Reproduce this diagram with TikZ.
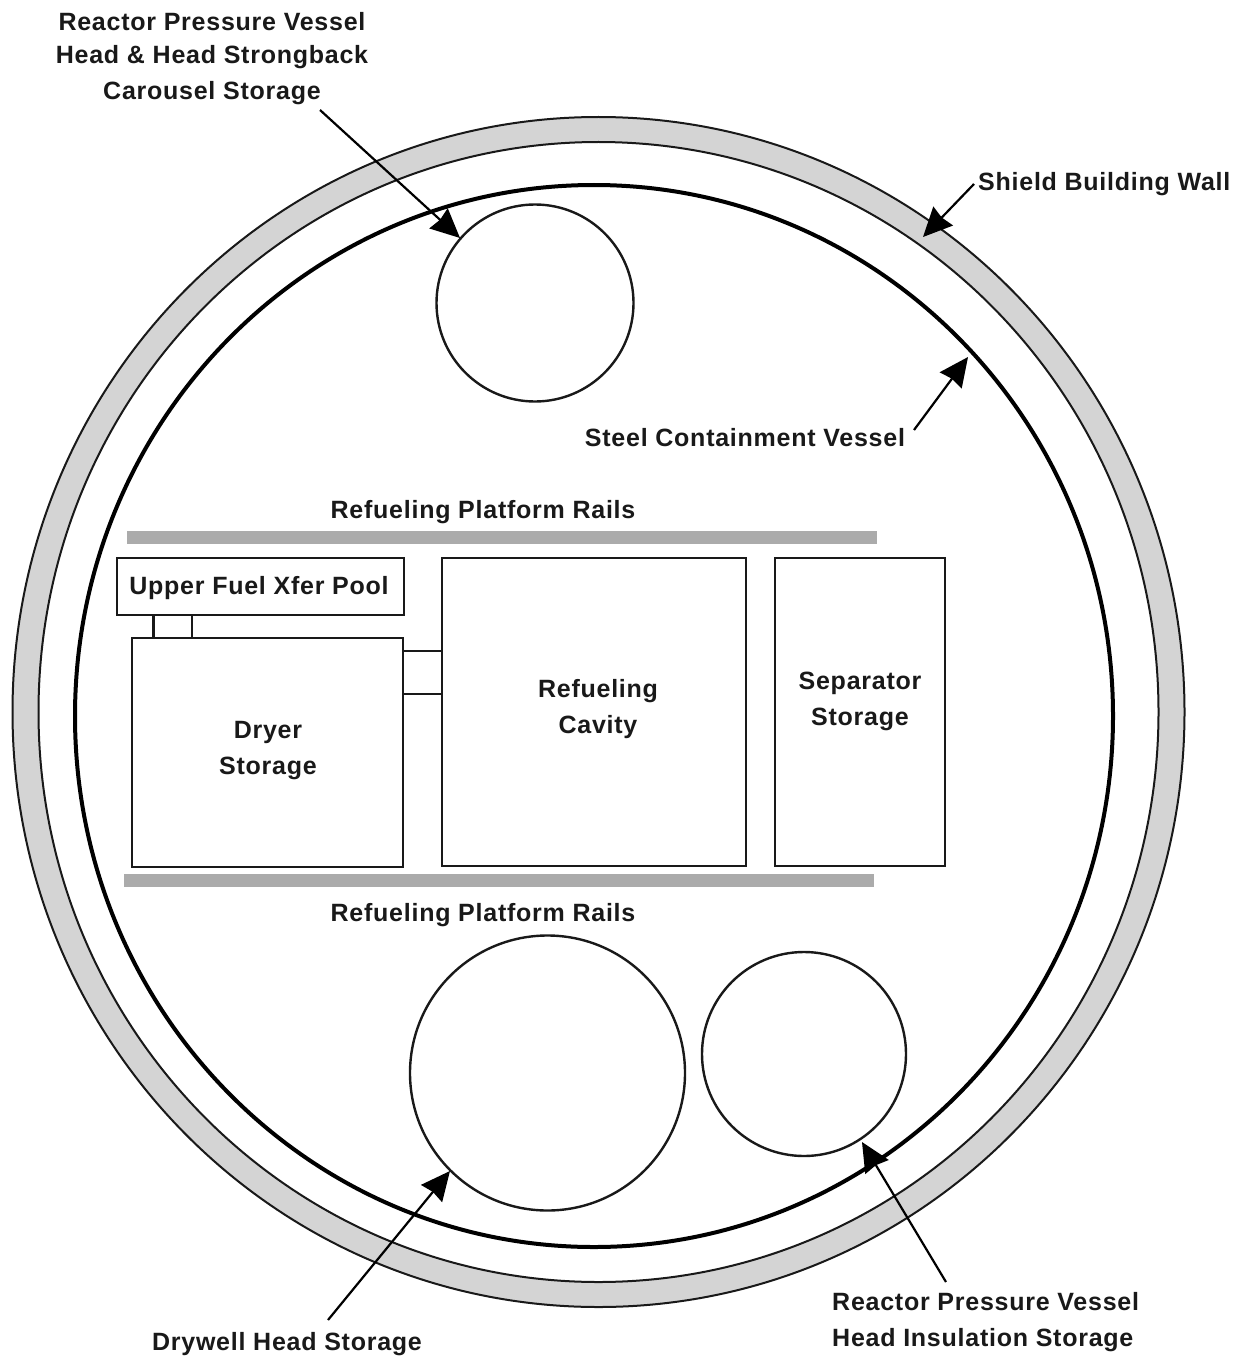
\documentclass[tikz,border=0pt]{standalone}
\usepackage{fontspec}
\setmainfont{Liberation Sans}[BoldFont={Liberation Sans Bold}]
\usetikzlibrary{arrows.meta}
\tikzset{
 x=1pt,y=-1pt,
 lbl/.style={font=\fontsize{25}{36}\selectfont\bfseries\addfontfeature{LetterSpace=3},text=black!90,align=center,inner sep=0pt},
 boxs/.style={draw=black!90,line width=2.6pt,fill=white,inner sep=0pt,outer sep=0pt,anchor=north west},
 round/.style={circle,draw=black!90,line width=2.4pt,inner sep=0pt},
 lead/.style={draw=black,line width=2.2pt,-{Stealth[length=29pt,width=27pt,inset=2pt]}},
 rail/.style={fill=black!33,draw=none},
 wall/.style={draw=black!90,line width=2pt},
}
\begin{document}
\begin{tikzpicture}
\useasboundingbox (0,0) rectangle (1244,1359);
\fill[white] (0,0) rectangle (1244,1359);
% shield wall
\path[wall,fill=black!17,even odd rule] (598.5,712) ellipse [x radius=586,y radius=595] (598.5,712) ellipse [x radius=560,y radius=570];
% steel vessel
\draw[black,line width=4pt] (594,716) ellipse [x radius=519,y radius=531];
% rails
\fill[rail] (127,531) rectangle (877,544);
\fill[rail] (124,874) rectangle (874,887);
% boxes
\node[boxs,minimum width=287pt,minimum height=57pt] (poolbox) at (117,558) {};
\node[boxs,minimum width=271pt,minimum height=229pt] (dryerbox) at (132,638) {};
\node[boxs,minimum width=304pt,minimum height=308pt] (cavitybox) at (442,558) {};
\node[boxs,minimum width=170pt,minimum height=308pt] (sepbox) at (775,558) {};
\node[boxs,minimum width=38.5pt,minimum height=23pt] (link1) at (153.5,615) {};
\node[boxs,minimum width=39pt,minimum height=43pt] (link2) at (403,651) {};
% circles
\node[round,minimum size=197pt] (carousel) at (535,303) {};
\node[round,minimum size=275pt] (drywell) at (547.5,1073) {};
\node[round,minimum size=204pt] (insul) at (804,1054) {};
% labels
\node[lbl] (t1) at (212,58.5) {Reactor Pressure Vessel\\[-3.5pt]Head \& Head Strongback\\Carousel Storage};
\node[lbl,anchor=west] (t2) at (978,184) {Shield Building Wall};
\node[lbl] (t3) at (745,438) {Steel Containment Vessel};
\node[lbl] (t4) at (483,512) {Refueling Platform Rails};
\node[lbl] (t5) at (259,588) {Upper Fuel Xfer Pool};
\node[lbl] (t6) at (598,709) {Refueling\\Cavity};
\node[lbl] (t7) at (860,701) {Separator\\Storage};
\node[lbl] (t8) at (268,751) {Dryer\\Storage};
\node[lbl] (t9) at (483,915) {Refueling Platform Rails};
\node[lbl] (t10) at (287,1344) {Drywell Head Storage};
\node[lbl,align=left,anchor=west] (t11) at (832,1322) {Reactor Pressure Vessel\\Head Insulation Storage};
% leaders
\coordinate (a1) at (320,110); \coordinate (b1) at (460,238);
\coordinate (a2) at (974,184); \coordinate (b2) at (923,237);
\coordinate (a3) at (914,430); \coordinate (b3) at (968,357);
\coordinate (a4) at (328,1320); \coordinate (b4) at (450,1171);
\coordinate (a5) at (946,1282); \coordinate (b5) at (862,1142);
\draw[lead] (a1) -- (b1);
\draw[lead] (a2) -- (b2);
\draw[lead] (a3) -- (b3);
\draw[lead] (a4) -- (b4);
\draw[lead] (a5) -- (b5);
\end{tikzpicture}
\end{document}
